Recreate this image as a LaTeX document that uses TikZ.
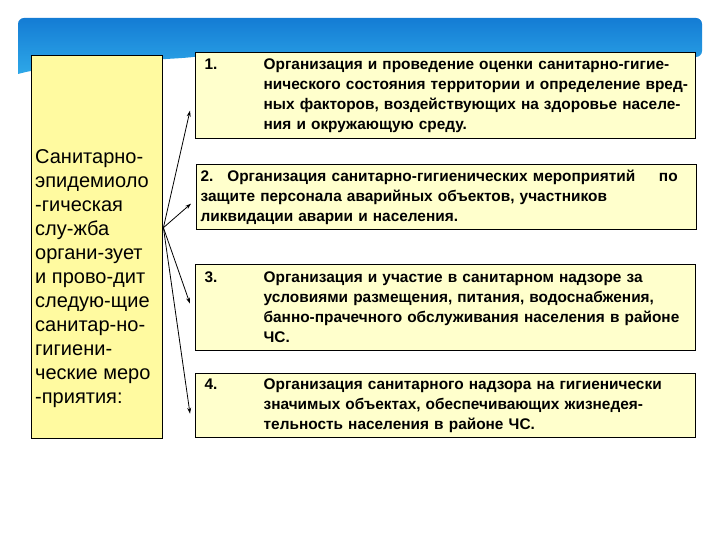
\documentclass[tikz,border=0pt]{standalone}
\usepackage{fontspec}
\setmainfont{Liberation Sans}
\usetikzlibrary{arrows.meta,positioning}
\definecolor{hdrtop}{RGB}{20,124,212}
\definecolor{hdrbot}{RGB}{46,168,232}
\definecolor{leftfill}{RGB}{255,250,160}
\definecolor{itemfill}{RGB}{255,255,204}
\tikzset{
  mainbox/.style={draw=black,line width=1.4bp,fill=leftfill,minimum width=131bp,minimum height=383bp,anchor=north west,inner sep=0pt},
  maintext/.style={anchor=north west,inner sep=0pt,align=left,font=\fontsize{20bp}{24bp}\selectfont},
  itembox/.style={draw=black,line width=1.3bp,fill=itemfill,minimum width=500bp,anchor=north west,inner xsep=9bp,inner ysep=0pt,text width=482bp,align=left,font=\fontsize{15.4bp}{20bp}\selectfont\bfseries},
  arr/.style={-{Stealth[length=6bp,width=4bp]},line width=0.8bp}
}
\newcommand{\numitem}[2]{\makebox[59bp][l]{#1}\parbox[t]{450bp}{\raggedright #2}}
\begin{document}
\begin{tikzpicture}[x=1bp,y=-1bp]
\useasboundingbox (0,0) rectangle (720,540);
\shade[top color=hdrtop,bottom color=hdrbot,rounded corners=6bp]
  (18,74) -- (18,18) -- (702,18) -- (702,57) [sharp corners] .. controls (500,56) and (260,52) .. (193,57)
  .. controls (170,60) and (60,62) .. (18,74) -- cycle;
\node[mainbox,minimum height=383bp] (lbox) at (31,55) {};
\node[maintext] (ltext) at (35,149) {Санитарно-\\эпидемиоло\\-гическая\\слу-жба\\органи-зует\\и прово-дит\\следую-щие\\санитар-но-\\гигиени-\\ческие меро\\-приятия:};
\node[itembox,minimum height=86bp] (item1) at (195,52) {\numitem{1.}{Организация и проведение оценки санитарно-гигие-\\нического состояния территории и определение вред-\\ных факторов, воздействующих на здоровье населе-\\ния и окружающую среду.}};
\node[itembox,minimum height=65bp] (item2) at (196,164) {\hspace*{-5bp}2.\hspace{0.9em}Организация санитарно-гигиенических мероприятий\hfill по\rule{10bp}{0pt}\\\hspace*{-5bp}защите персонала аварийных объектов, участников\\\hspace*{-5bp}ликвидации аварии и населения.};
\node[itembox,minimum height=86bp] (item3) at (195,264) {\numitem{3.}{Организация и участие в санитарном надзоре за\\условиями размещения, питания, водоснабжения,\\банно-прачечного обслуживания населения в районе\\ЧС.}};
\node[itembox,minimum height=64bp] (item4) at (195,373) {\numitem{4.}{Организация санитарного надзора на гигиенически\\значимых объектах, обеспечивающих жизнедея-\\тельность населения в районе ЧС.}};
\coordinate (src) at ([yshift=19.5bp]lbox.east);
\foreach \i/\dy in {1/-15,2/-6.5,3/4,4/-8}
  \draw[arr] (src) -- ([xshift=-5bp,yshift=\dy bp]item\i.west);
\end{tikzpicture}
\end{document}
